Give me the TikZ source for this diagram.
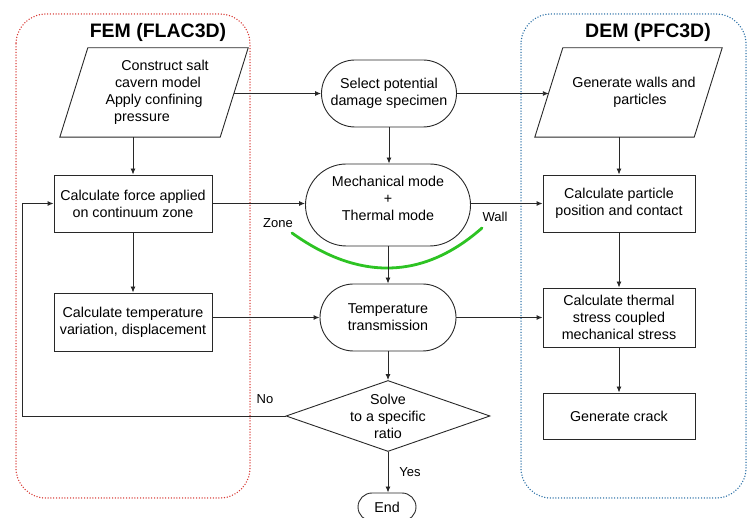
\documentclass[tikz,border=0pt]{standalone}
\usepackage{fontspec}
\setmainfont{Liberation Sans}
\usetikzlibrary{shapes.geometric,arrows.meta,calc}

\definecolor{femred}{RGB}{215,55,50}
\definecolor{demblue}{RGB}{40,110,165}
\definecolor{zonegreen}{RGB}{45,195,35}
\definecolor{ink}{RGB}{40,40,40}

\begin{document}
\begin{tikzpicture}[x=1pt,y=-1pt,
  txt/.style={font=\fontsize{14.3}{17}\selectfont, align=center, inner sep=0pt, text=black},
  lbl/.style={font=\fontsize{13}{15}\selectfont, inner sep=0pt, text=black},
  ttl/.style={font=\fontsize{19.5}{22}\selectfont\bfseries, inner sep=0pt, text=black},
  shp/.style={txt, draw=ink, line width=0.9pt},
  procbox/.style 2 args={shp, rectangle, minimum width=#1, minimum height=#2},
  stadium/.style n args={3}{shp, rectangle, minimum width=#1, minimum height=#2, rounded corners=#3},
  % input/output block: a rectangle of the mid-height size, outlined as a slanted parallelogram
  iobox/.style={txt, rectangle, minimum width=160pt, minimum height=89pt},
  ioline/.style={draw=ink, line width=0.9pt, line join=miter},
  decision/.style={draw=ink, line width=0.9pt, diamond, inner sep=0pt, minimum width=204pt, minimum height=71pt},
  arr/.style={draw=ink, line width=0.9pt, -{Latex[length=6pt,width=5pt]}},
  frame/.style={rounded corners=30pt, line width=1.5pt, line cap=round, dash pattern=on 0pt off 2.8pt},
]
\useasboundingbox (0,0) rectangle (748,518);

% solver frames
\draw[frame, femred] (16,14) rectangle (250,498);
\draw[frame, demblue] (521,14) rectangle (746,498);
\node[ttl] (femtitle) at (158,32) {FEM (FLAC3D)};
\node[ttl] (demtitle) at (648,32) {DEM (PFC3D)};

% FEM column
\node[iobox] (model) at (154,92.5) {\hspace*{22pt}Construct salt\\\hspace*{8pt}cavern model\\Apply confining\hspace*{8pt}\\pressure\hspace*{24pt}};
\draw[ioline] ([xshift=-14pt]model.south west) -- ([xshift=14pt]model.north west)
  -- ([xshift=14pt]model.north east) -- ([xshift=-14pt]model.south east) -- cycle;
\node[procbox={158pt}{57pt}] (force) at (133,203.5) {Calculate force applied\\on continuum zone};
\node[procbox={158pt}{58pt}] (tempvar) at (133,322) {Calculate temperature\\variation, displacement};

% coupling column
\node[stadium={135pt}{67pt}{33.5pt}] (select) at (389,93.5) {Select potential\\damage specimen};
\node[stadium={165pt}{82pt}{41pt}] (mech) at (388,205) {};
\node[txt, yshift=7pt] (mechtext) at (mech.center) {Mechanical mode\\+\\Thermal mode};
\node[stadium={136pt}{67pt}{33.5pt}] (trans) at (388,317.5) {Temperature\\transmission};
\node[decision] (solve) at (388,416) {};
\node[txt] (solvetext) at (solve.center) {Solve\\to a specific\\ratio};
\node[stadium={58pt}{28pt}{14pt}] (finish) at (387,507) {End};

% DEM column
\node[iobox, minimum width=159pt] (walls) at (628.5,92.5) {\hspace*{11pt}Generate walls and\\\hspace*{23pt}particles};
\draw[ioline] ([xshift=-14pt]walls.south west) -- ([xshift=14pt]walls.north west)
  -- ([xshift=14pt]walls.north east) -- ([xshift=-14pt]walls.south east) -- cycle;
\node[procbox={152pt}{57pt}] (contact) at (619,203.5) {Calculate particle\\position and contact};
\node[procbox={152pt}{59pt}] (stress) at (619,317.5) {Calculate thermal\\stress coupled\\mechanical stress};
\node[procbox={152pt}{46pt}] (crack) at (619,416) {Generate crack};

% zone/wall interface arc
\draw[zonegreen, line width=2.8pt, line cap=round]
  (292,233) .. controls (359,281) and (423,280) .. (482,228);
\node[lbl] (zone) at (278,223) {Zone};
\node[lbl] (wall) at (495,217) {Wall};

% connectors
\coordinate (loopx) at (22,0);
\draw[arr] (model.east |- select.west) -- (select.west);
\draw[arr] (select.east) -- (select.east -| walls.west);
\draw[arr] (force.north |- model.south) -- (force.north);
\draw[arr] (force.south) -- (tempvar.north);
\draw[arr] (force.east) -- (force.east -| mech.west);
\draw[arr] (mech.east |- contact.west) -- (contact.west);
\draw[arr] (select.south) -- (select.south |- mech.north);
\draw[arr] (mech.south) -- (trans.north);
\draw[arr] (tempvar.east |- trans.west) -- (trans.west);
\draw[arr] (trans.east) -- (stress.west);
\draw[arr] (trans.south) -- (solve.north);
\draw[arr] (solve.west) -- (solve.west -| loopx) |- (force.west);
\draw[arr] (solve.south) -- (solve.south |- finish.north);
\draw[arr] (contact.north |- walls.south) -- (contact.north);
\draw[arr] (contact.south) -- (stress.north);
\draw[arr] (stress.south) -- (crack.north);

\node[lbl] (nolbl) at (265,399) {No};
\node[lbl] (yeslbl) at (410,472) {Yes};
\end{tikzpicture}
\end{document}
